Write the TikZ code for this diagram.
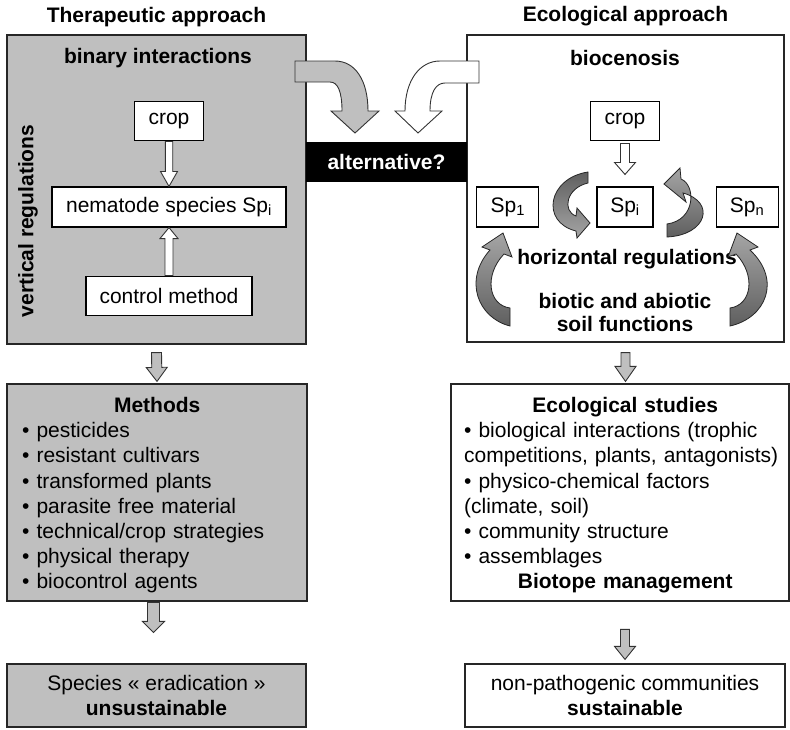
\documentclass[tikz,border=0pt]{standalone}
\usepackage{fontspec}
\setmainfont{Liberation Sans}
\usepackage{tikz}
\usetikzlibrary{calc, positioning}
\definecolor{boxgray}{RGB}{191,191,191}
\definecolor{ribdark}{RGB}{95,95,95}
\definecolor{riblight}{RGB}{165,165,165}
\newcommand{\diagfont}{\fontsize{21}{25.2}\selectfont}
\tikzstyle{mainbox} = [rectangle, draw=black!85, line width=1.2pt, inner sep=0pt]
\tikzstyle{innerbox} = [rectangle, draw=black, fill=white, line width=1.1pt, inner sep=0pt, font=\diagfont]
\tikzstyle{heading} = [font=\diagfont\bfseries, inner sep=0pt]
\tikzstyle{plain} = [font=\diagfont, inner sep=0pt, align=center]
\tikzstyle{listtext} = [font=\diagfont, inner sep=0pt, align=left, anchor=north west]
\tikzstyle{blockline} = [draw=black!80, line width=0.9pt]
\tikzstyle{ribbon} = [draw=black!85, line width=0.8pt]
% block arrow: [fill]{shaft half}{head half}{head length}{from}{to}
\newcommand{\blockarrow}[6][white]{%
  \coordinate (ba-s) at (#5);
  \coordinate (ba-e) at (#6);
  \coordinate (ba-h) at ($(ba-e)!#4!(ba-s)$);
  \draw[blockline, fill=#1] ($(ba-s)!#2!90:(ba-e)$) -- ($(ba-h)!#2!-90:(ba-s)$)
    -- ($(ba-h)!#3!-90:(ba-s)$) -- (ba-e) -- ($(ba-h)!#3!90:(ba-s)$)
    -- ($(ba-h)!#2!90:(ba-s)$) -- ($(ba-s)!#2!-90:(ba-e)$) -- cycle;
}

\begin{document}
\begin{tikzpicture}[x=1pt, y=-1pt]
\useasboundingbox (0,0) rectangle (790,729);

% main boxes
\node (left) [mainbox, fill=boxgray, minimum width=299pt, minimum height=309pt] at (156.5,189.5) {};
\node (right) [mainbox, fill=white, minimum width=317pt, minimum height=307pt] at (625.5,188.5) {};
\node (thera) [heading, above=7pt of left] {Therapeutic approach};
\node (eco) [heading, above=8pt of right] {Ecological approach};

% therapeutic side
\node (binary) [heading] at (158,58) {binary interactions};
\node (nema) [innerbox, minimum width=234pt, minimum height=40pt] at (169,207) {nematode species Sp\textsubscript{i}};
\node (cropL) [innerbox, minimum width=69pt, minimum height=39pt, above=45pt of nema] {crop};
\node (ctrl) [innerbox, minimum width=166pt, minimum height=39pt, below=48pt of nema] {control method};
\node (vreg) [heading, rotate=90] at (28,221) {vertical regulations};
\blockarrow{3.7pt}{8.5pt}{15pt}{cropL.south}{nema.north}
\blockarrow{4pt}{9pt}{11pt}{ctrl.north}{nema.south}

% ecological side
\node (bioc) [heading] at (625,58) {biocenosis};
\node (spi) [innerbox, minimum width=56pt, minimum height=40pt] at (625,207) {Sp\textsubscript{i}};
\node (sp1) [innerbox, minimum width=62pt, minimum height=40pt, left=57pt of spi] {Sp\textsubscript{1}};
\node (spn) [innerbox, minimum width=62pt, minimum height=40pt, right=62pt of spi] {Sp\textsubscript{n}};
\node (cropR) [innerbox, minimum width=69pt, minimum height=39pt, above=45pt of spi] {crop};
\node (horiz) [heading] at (627,259) {horizontal regulations};
\node (soil) [heading, align=center, font=\fontsize{21}{23}\selectfont\bfseries] at (625,312) {biotic and abiotic\\soil functions};
\blockarrow{4.5pt}{10.5pt}{12pt}{$(cropR.south)+(0,2)$}{$(spi.north)+(0,-12)$}

% ribbons round the species
\draw[ribbon, top color=ribdark, bottom color=riblight] (588,172) .. controls (548,178) and (540,222) .. (576,231)
  -- (577,238) -- (590,223) -- (577,208) -- (576,216) .. controls (562,211) and (566,188) .. (588,183) -- cycle;
\draw[ribbon, top color=riblight, bottom color=ribdark] (667,237) .. controls (707,235) and (716,202) .. (683,193)
  -- (686,202) -- (664,184) -- (680,168) -- (681,179) .. controls (696,185) and (696,220) .. (667,224) -- cycle;
\draw[ribbon, top color=riblight, bottom color=ribdark] (510,326) .. controls (478,318) and (463,280) .. (490,250)
  -- (482,247) -- (503,233) -- (512,257) -- (504,254) .. controls (484,275) and (488,305) .. (510,308) -- cycle;
\draw[ribbon, top color=riblight, bottom color=ribdark] (730,326) .. controls (766,318) and (782,280) .. (750,250)
  -- (758,247) -- (737,233) -- (728,257) -- (736,254) .. controls (756,275) and (752,305) .. (730,308) -- cycle;

% the two curved arrows and the question
\draw[blockline, fill=boxgray] (295,61) -- (335,61) .. controls (355,61) and (368,80) .. (368,111)
  -- (379,111) -- (355,133) -- (331,111) -- (342,111) .. controls (342,92) and (338,82) .. (330,82) -- (295,82) -- cycle;
\draw[blockline, fill=white] (479,61) -- (440,61) .. controls (420,61) and (405,80) .. (405,111)
  -- (395,111) -- (418,133) -- (442,111) -- (430,111) .. controls (430,92) and (436,83) .. (445,83) -- (479,83) -- cycle;
\node (alt) [rectangle, fill=black, text=white, font=\diagfont\bfseries, minimum width=161pt, minimum height=40pt, inner sep=0pt] at (386.5,162) {alternative?};

% lower boxes
\node (methods) [mainbox, fill=boxgray, minimum width=300pt, minimum height=217pt] at (157,492.5) {};
\node (methlist) [listtext, text width=270pt] at (22,397) {\hfill\textbf{Methods}\hfill\mbox{}\\
  • pesticides\\ • resistant cultivars\\ • transformed plants\\ • parasite free material\\
  • technical/crop strategies\\ • physical therapy\\ • biocontrol agents};
\node (ecobox) [mainbox, fill=white, minimum width=338pt, minimum height=217pt] at (620,492.5) {};
\node (ecolist) [listtext, text width=322pt] at (464,397) {\hfill\textbf{Ecological studies}\hfill\mbox{}\\
  • biological interactions (trophic\\ competitions, plants, antagonists)\\ • physico-chemical factors\\
  (climate, soil)\\ • community structure\\ • assemblages\\ \hfill\textbf{Biotope management}\hfill\mbox{}};
\node (species) [mainbox, fill=boxgray, minimum width=299pt, minimum height=63pt, plain] at (156.5,695.5) {Species « eradication »\\\textbf{unsustainable}};
\node (nonpath) [mainbox, fill=white, minimum width=320pt, minimum height=63pt, plain] at (625,695.5) {non-pathogenic communities\\\textbf{sustainable}};

\blockarrow[boxgray]{5pt}{10.5pt}{14pt}{$(left.south)+(0,8)$}{$(methods.north)+(0,-2)$}
\blockarrow[boxgray]{6pt}{11pt}{11pt}{$(species.north)+(-3,-61)$}{$(species.north)+(-3,-31)$}
\blockarrow[boxgray]{4.5pt}{10.5pt}{15pt}{$(right.south)+(0,10)$}{$(right.south |- ecobox.north)+(0,-2)$}
\blockarrow[boxgray]{4.5pt}{10.5pt}{13pt}{$(nonpath.north)+(0,-34)$}{$(nonpath.north)+(0,-4)$}
\end{tikzpicture}
\end{document}
